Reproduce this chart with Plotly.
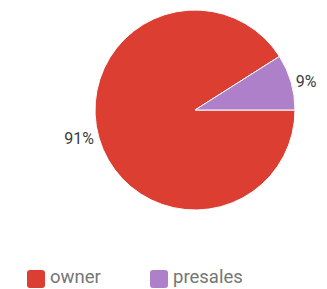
import plotly.graph_objects as go

labels = ["owner", "presales"]
values = [91, 9]
colors = ["#DC3E32", "#AE80C9"]

W, H = 327, 289
# page body has an 8px offset; positions below are in figure pixels
cx, cy, r = 187, 102, 100

fig = go.Figure(go.Pie(
    labels=labels,
    values=values,
    sort=False,
    direction="clockwise",
    rotation=90,
    marker=dict(colors=colors, line=dict(color="white", width=1)),
    textinfo="percent",
    texttemplate="%{percent:.0%}",
    textposition="outside",
    outsidetextfont=dict(family="Roboto, Arial, sans-serif", size=16, color="#3c3c3c"),
    automargin=False,
    hoverinfo="label+percent",
    showlegend=False,
    domain=dict(x=[(cx - r) / W, (cx + r) / W], y=[1 - (cy + r) / H, 1 - (cy - r) / H]),
))

# custom legend (rounded swatches + text) at the bottom
legend_x = [19, 142]      # swatch left edges, figure px
sw, yc, rad = 18, 271, 3  # swatch size, row centre, corner radius
ytext = 269

def px(x):
    return x / W

def py(y):
    return 1 - y / H

shapes, annotations = [], []
for lab, col, x0 in zip(labels, colors, legend_x):
    x1, y0, y1 = x0 + sw, yc - sw / 2, yc + sw / 2
    path = (
        f"M {px(x0 + rad)},{py(y0)} L {px(x1 - rad)},{py(y0)} "
        f"Q {px(x1)},{py(y0)} {px(x1)},{py(y0 + rad)} "
        f"L {px(x1)},{py(y1 - rad)} Q {px(x1)},{py(y1)} {px(x1 - rad)},{py(y1)} "
        f"L {px(x0 + rad)},{py(y1)} Q {px(x0)},{py(y1)} {px(x0)},{py(y1 - rad)} "
        f"L {px(x0)},{py(y0 + rad)} Q {px(x0)},{py(y0)} {px(x0 + rad)},{py(y0)} Z"
    )
    shapes.append(dict(type="path", xref="paper", yref="paper", path=path,
                       fillcolor=col, line=dict(width=0)))
    annotations.append(dict(x=px(x1 + 4), y=py(ytext), xref="paper", yref="paper",
                            text=lab, showarrow=False, xanchor="left", yanchor="middle",
                            borderpad=0,
                            font=dict(family="Roboto, Arial, sans-serif", size=18.5, color="#757575")))

fig.update_layout(
    width=W, height=H,
    margin=dict(l=0, r=0, t=0, b=0),
    paper_bgcolor="white",
    plot_bgcolor="white",
    font=dict(family="Roboto, Arial, sans-serif"),
    shapes=shapes,
    annotations=annotations,
)

fig.write_html("out.html")
